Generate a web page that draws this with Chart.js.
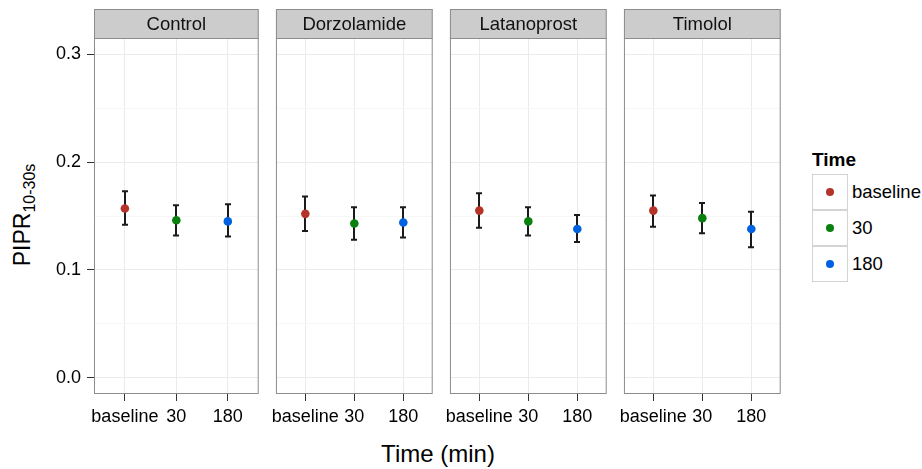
<!DOCTYPE html>
<html>
<head>
<meta charset="utf-8">
<script src="https://cdn.jsdelivr.net/npm/chart.js@4.4.1/dist/chart.umd.min.js"></script>
<style>
  html, body { margin: 0; padding: 0; background: #fff; }
  body { width: 922px; height: 469px; position: relative; overflow: hidden;
         font-family: 'Liberation Sans', Arial, sans-serif; color: #000; }
  canvas { position: absolute; top: 0; }
  .ytitle { position: absolute; left: 24px; top: 215px; white-space: nowrap;
            transform: translate(-50%, -50%) rotate(-90deg); font-size: 23px; }
  .ytitle sub { font-size: 16px; vertical-align: -5px; }
  .xtitle { position: absolute; left: 438px; top: 454px; transform: translate(-50%, -50%);
            font-size: 24px; white-space: nowrap; }
  .legend { position: absolute; left: 812px; top: 148px; }
  .legend .ttl { font-weight: bold; font-size: 19px; height: 26px; line-height: 24px; }
  .legend .row { height: 36px; display: flex; align-items: center; }
  .legend .key { width: 34px; height: 34px; border: 1px solid #d4d4d4; margin-top: -1px;
                 display: flex; align-items: center; justify-content: center; box-sizing: content-box; }
  .legend .dot { width: 8px; height: 8px; border-radius: 50%; }
  .legend .lab { font-size: 18.5px; margin-left: 4px; }
</style>
</head>
<body>
<div class="ytitle">PIPR<sub>10-30s</sub></div>
<div class="xtitle">Time (min)</div>
<div class="legend" id="legend"></div>
<script>
// facettes et niveaux
const groups = ['Control', 'Dorzolamide', 'Latanoprost', 'Timolol'];
const times = ['baseline', '30', '180'];
const timeColors = ['#b5342a', '#0a800f', '#0062e0'];

// moyennes et barres d'erreur, une ligne par facette
const meanValues = [
    [0.157, 0.146, 0.145],
    [0.152, 0.143, 0.144],
    [0.155, 0.145, 0.138],
    [0.155, 0.148, 0.138]
];
const lowerValues = [
    [0.142, 0.132, 0.131],
    [0.136, 0.128, 0.130],
    [0.139, 0.132, 0.126],
    [0.140, 0.134, 0.121]
];
const upperValues = [
    [0.173, 0.160, 0.161],
    [0.168, 0.158, 0.158],
    [0.171, 0.158, 0.151],
    [0.169, 0.162, 0.154]
];

// graduations de l'axe y
const yMajorTicks = [0, 0.1, 0.2, 0.3];
const yMinorTicks = [0.05, 0.15, 0.25];

const panelLefts = [94, 268, 442, 616];
const panelWidth = 167;
const stripTop = 9;

function isMajor(v) {
    return yMajorTicks.some(m => Math.abs(m - v) < 1e-9);
}

// bandeau, cadre et barres d'erreur
const facetPlugin = {
    id: 'facet',
    beforeDatasetsDraw(chart, args, opts) {
        const ctx = chart.ctx;
        const xs = chart.scales.x, ys = chart.scales.y;
        const g = opts.group;
        ctx.save();
        ctx.strokeStyle = '#1a1a1a';
        ctx.lineWidth = 2;
        for (let i = 0; i < times.length; i++) {
            const x = Math.round(xs.getPixelForValue(i));
            const yt = ys.getPixelForValue(upperValues[g][i]);
            const yb = ys.getPixelForValue(lowerValues[g][i]);
            ctx.beginPath();
            ctx.moveTo(x, yt); ctx.lineTo(x, yb);
            ctx.moveTo(x - 3, yt); ctx.lineTo(x + 3, yt);
            ctx.moveTo(x - 3, yb); ctx.lineTo(x + 3, yb);
            ctx.stroke();
        }
        ctx.restore();
    },
    afterDraw(chart, args, opts) {
        const ctx = chart.ctx;
        const a = chart.chartArea;
        ctx.save();
        ctx.fillStyle = '#cccccc';
        ctx.fillRect(a.left, stripTop, a.right - a.left, a.top - stripTop);
        ctx.strokeStyle = '#8c8c8c';
        ctx.lineWidth = 1;
        ctx.strokeRect(a.left + 0.5, stripTop + 0.5, a.right - a.left - 1, a.top - stripTop);
        ctx.strokeRect(a.left + 0.5, a.top + 0.5, a.right - a.left - 1, a.bottom - a.top - 1);
        ctx.fillStyle = '#111';
        ctx.font = "18.5px 'Liberation Sans', Arial, sans-serif";
        ctx.textAlign = 'center';
        ctx.textBaseline = 'middle';
        ctx.fillText(groups[opts.group], (a.left + a.right) / 2, (stripTop + a.top) / 2 + 1);
        ctx.restore();
    }
};

function makePanel(g) {
    const axisW = g === 0 ? 94 : 0;
    const padL = g === 0 ? 0 : 2;
    const canvas = document.createElement('canvas');
    canvas.width = axisW + padL + panelWidth + 2;
    canvas.height = 431;
    canvas.style.left = (panelLefts[g] - axisW - padL) + 'px';
    document.body.appendChild(canvas);

    new Chart(canvas, {
        type: 'scatter',
        data: {
            datasets: [{
                data: meanValues[g].map((m, i) => ({ x: i, y: m })),
                backgroundColor: timeColors,
                borderWidth: 0,
                pointRadius: 4.3,
                pointHoverRadius: 4.3
            }]
        },
        options: {
            responsive: false,
            animation: false,
            events: [],
            layout: { padding: { left: padL, right: 2, top: 38, bottom: 0 } },
            plugins: {
                legend: { display: false },
                tooltip: { enabled: false },
                facet: { group: g }
            },
            scales: {
                x: {
                    type: 'linear',
                    min: -0.6,
                    max: 2.6,
                    afterBuildTicks: s => { s.ticks = times.map((t, i) => ({ value: i })); },
                    afterFit: s => { s.height = 37; },
                    border: { display: false },
                    grid: { color: '#ebebeb', tickColor: '#333', tickLength: 7 },
                    ticks: {
                        callback: v => times[v],
                        autoSkip: false,
                        maxRotation: 0,
                        color: '#000',
                        padding: 5,
                        font: { size: 18, family: "'Liberation Sans', Arial, sans-serif" }
                    }
                },
                y: {
                    min: -0.015,
                    max: 0.315,
                    afterBuildTicks: s => {
                        s.ticks = yMajorTicks.concat(yMinorTicks).sort((a, b) => a - b).map(v => ({ value: v }));
                    },
                    afterFit: s => { s.width = axisW; },
                    border: { display: false },
                    grid: {
                        color: c => (c.tick && isMajor(c.tick.value)) ? '#ebebeb' : '#f7f7f7',
                        tickColor: c => (c.tick && isMajor(c.tick.value)) ? '#333' : 'rgba(0,0,0,0)',
                        drawTicks: g === 0,
                        tickLength: 7
                    },
                    ticks: {
                        display: g === 0,
                        callback: v => isMajor(v) ? v.toFixed(1) : '',
                        color: '#000',
                        padding: 6,
                        font: { size: 18, family: "'Liberation Sans', Arial, sans-serif" }
                    }
                }
            }
        },
        plugins: [facetPlugin]
    });
}

groups.forEach((name, g) => makePanel(g));

// légende
const legend = document.getElementById('legend');
legend.innerHTML = '<div class="ttl">Time</div>' + times.map((t, i) =>
    '<div class="row"><div class="key"><div class="dot" style="background:' + timeColors[i] +
    '"></div></div><div class="lab">' + t + '</div></div>').join('');
</script>
</body>
</html>
